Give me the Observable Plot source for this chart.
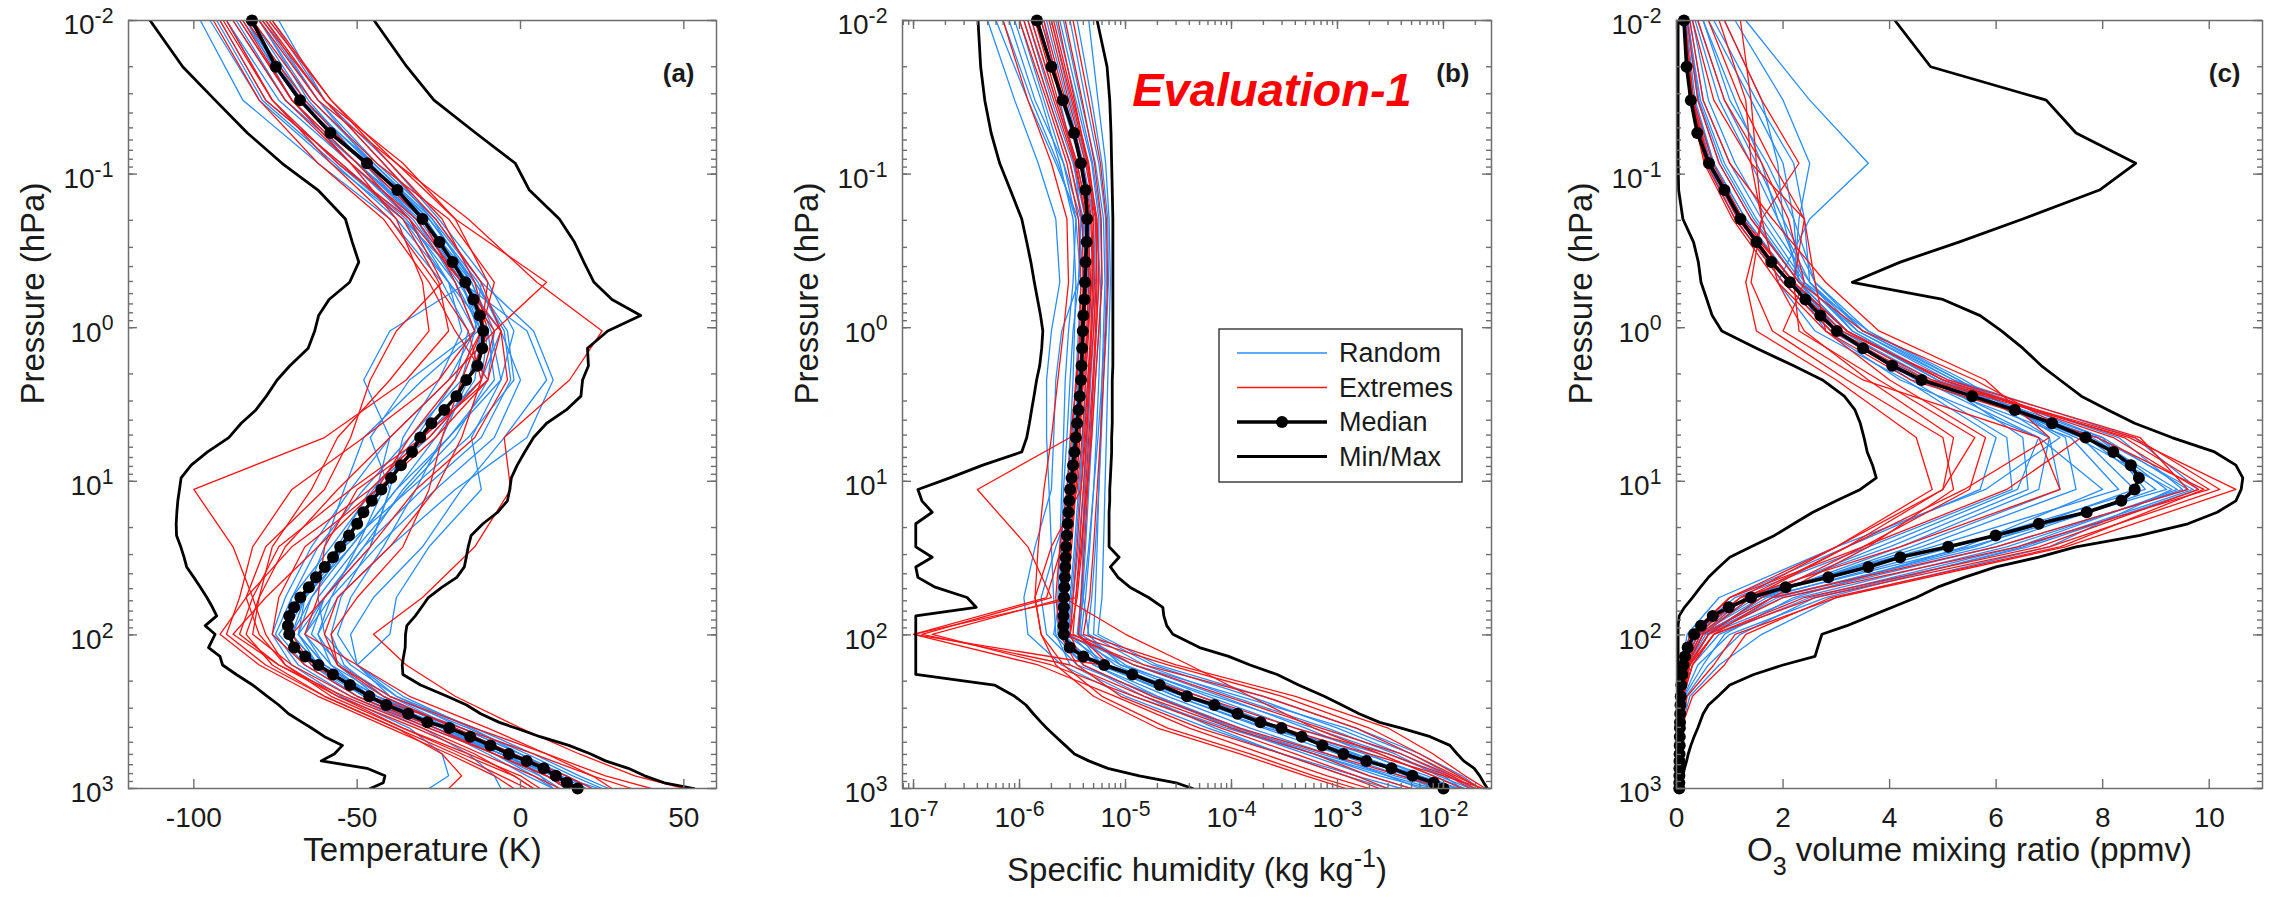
<!DOCTYPE html>
<html>
<head>
<meta charset="utf-8">
<script src="https://cdn.jsdelivr.net/npm/d3@7"></script>
<script src="https://cdn.jsdelivr.net/npm/@observablehq/plot@0.6"></script>
<style>
  html, body { margin: 0; padding: 0; background: #fff; }
  #page { position: relative; width: 2270px; height: 899px; overflow: hidden; background: #fff;
          font-family: "Liberation Sans", Arial, Helvetica, sans-serif; }
  .panel { position: absolute; top: 0; }
  #overlay { position: absolute; left: 0; top: 0; pointer-events: none; }
</style>
</head>
<body>
<div id="page"></div>
<script>
// Pressure levels (hPa) of the median and min/max profiles
const levels = [0.01, 0.02, 0.033, 0.054, 0.085, 0.127, 0.196, 0.277, 0.374, 0.506, 0.655, 0.834,
  1.05, 1.36, 1.77, 2.19, 2.79, 3.43, 4.19, 5.19, 6.44, 7.85, 9.5, 11.3, 13.4, 15.9, 18.9, 22.5,
  26.7, 31.2, 36.1, 42.2, 48.9, 57.1, 66.1, 75.2, 87.1, 99.1, 121, 138, 157, 181, 212, 251, 286,
  326, 371, 404, 460, 524, 596, 661, 739, 827, 918, 1000];

// Pressure levels (hPa) of the individual sample profiles
const levelsCoarse = [0.01, 0.033, 0.085, 0.196, 0.506, 1.05, 2.19, 5.19, 11.3, 26.7, 57.1, 99.1,
  157, 251, 404, 596, 827, 1000];

// ---------- (a) temperature ----------
const tempMedian = [-82.2, -74.9, -67.5, -58.2, -47.0, -37.7, -30.0, -24.8, -20.8, -16.9, -14.4, -12.5,
  -11.4, -11.7, -13.2, -16.6, -19.6, -23.3, -27.3, -30.7, -33.2, -36.6, -39.6, -42.6, -45.5, -48.1,
  -50.0, -52.5, -55.2, -57.4, -59.9, -62.6, -64.8, -67.4, -69.3, -70.8, -71.2, -70.8, -69.3, -65.9,
  -61.9, -57.4, -52.2, -46.3, -41.1, -34.4, -28.5, -21.8, -15.4, -9.2, -3.6, 1.9, 7.1, 10.8, 14.2, 17.5];
const tempMin = [-113.4, -103.4, -93.5, -83.6, -73, -62, -53.6, -51.5, -49.5, -52.3, -58.6, -61.8,
  -63, -65, -70.6, -74.5, -77.8, -81, -85.5, -89.3, -95.8, -100.8, -103.9, -104.4, -104.9, -105.2,
  -105.4, -105.3, -104, -103, -102.2, -100, -98, -96, -94.3, -93, -96.5, -93.5, -95.5, -92,
  -91.2, -87, -82, -77.5, -74, -71, -66.8, -64, -60, -54.5, -57, -61, -47, -41.5, -42, -46];
const tempMax = [-44.8, -34.8, -26.5, -13.7, -1.6, 2.7, 11.9, 16.5, 19.4, 22.5, 28, 36.8,
  26.7, 20.5, 20.8, 19, 18.5, 14, 8, 4, 1.3, -1, -2.8, -3.3, -4, -7, -11.5, -15.1, -16, -16.6,
  -17.2, -19.5, -24, -28.2, -30.3, -32.2, -34.8, -35.2, -35.3, -35.8, -36.2, -36, -30.6, -22.5,
  -16.5, -12.2, -6.5, -1.5, 6, 14.8, 21.5, 26, 33, 38, 44, 53.1];
const tempRandom = [
  [-98, -85, -62, -40, -24, -16, -20, -32, -45, -58, -70, -75, -68, -52, -30, -16, -8, -6],
  [-88, -72, -50, -32, -20, -12, -14, -26, -38, -52, -64, -68, -60, -44, -20, -2, 12, 20],
  [-80, -64, -45, -28, -14, -5, -3, -12, -30, -48, -60, -64, -55, -40, -16, 2, 16, 25],
  [-76, -60, -42, -27, -15, -8, -10, -20, -35, -50, -62, -60, -52, -38, -14, 4, 18, 27],
  [-92, -78, -55, -35, -20, -14, -22, -40, -52, -64, -72, -76, -70, -55, -34, -24, -22, -28],
  [-84, -68, -48, -30, -18, 2, 8, -5, -18, -30, -45, -52, -50, -36, -15, 0, 12, 18],
  [-86, -70, -50, -31, -18, -13, -30, -48, -54, -60, -66, -70, -62, -46, -24, -6, 8, 14],
  [-79, -62, -44, -26, -12, 4, 10, 2, -20, -40, -56, -62, -58, -46, -26, -10, 2, 10],
  [-90, -74, -52, -33, -19, -10, -12, -28, -46, -56, -66, -74, -66, -50, -28, -8, 6, 12],
  [-82, -66, -46, -29, -16, -40, -48, -40, -44, -54, -64, -70, -62, -48, -26, -6, 10, 16],
  [-78, -62, -46, -30, -15, -9, -6, -15, -12, -28, -38, -40, -50, -40, -20, -4, 6, 10],
  [-84, -70, -52, -34, -22, -18, -25, -36, -40, -46, -55, -58, -54, -42, -22, -6, 8, 14],
  [-95, -80, -58, -36, -17, -6, 0, -8, -26, -44, -58, -66, -60, -44, -18, 0, 14, 22],
  [-74, -60, -40, -25, -10, -2, -6, -22, -38, -52, -66, -72, -64, -48, -22, -4, 10, 18],
  [-90, -76, -56, -36, -22, -10, -8, -22, -36, -48, -60, -66, -58, -42, -20, -2, 10, 16],
  [-85, -68, -47, -28, -13, -6, -12, -30, -42, -50, -58, -62, -56, -44, -24, -8, 4, 10],
  [-80, -65, -48, -32, -18, -12, -16, -24, -32, -42, -52, -56, -50, -38, -18, 0, 14, 20],
  [-93, -79, -57, -38, -22, -14, -18, -34, -48, -62, -70, -72, -64, -50, -26, -6, 8, 14],
  [-87, -72, -50, -30, -14, -4, -2, -16, -34, -54, -66, -68, -60, -46, -24, -4, 12, 24],
  [-83, -67, -45, -27, -12, -14, -34, -46, -40, -46, -60, -68, -62, -46, -22, -2, 14, 20]
];
const tempExtremes = [
  [-92, -78, -55, -36, -25, -22, -35, -60, -100, -88, -82, -78, -72, -58, -36, -16, 0, 6],
  [-80, -62, -38, -16, 5, 25, 15, -5, -3, -14, -30, -45, -35, -20, 0, 18, 35, 50],
  [-86, -70, -50, -34, -24, -38, -46, -52, -60, -78, -84, -80, -72, -56, -36, -18, -2, 4],
  [-84, -66, -48, -30, -20, -14, -25, -48, -70, -82, -86, -90, -78, -60, -38, -20, -6, 2],
  [-78, -60, -36, -20, 8, -8, -12, -28, -50, -60, -62, -66, -50, -34, -10, 8, 22, 28],
  [-90, -76, -58, -40, -26, -16, -12, -18, -26, -40, -56, -60, -56, -42, -20, -2, 14, 22],
  [-82, -64, -44, -22, -8, -12, -20, -34, -44, -62, -78, -88, -74, -54, -30, -12, 4, 12],
  [-88, -72, -52, -32, -18, -8, -22, -40, -56, -72, -80, -84, -76, -60, -38, -24, -18, -22],
  [-79, -60, -42, -26, -12, -6, -4, -14, -32, -46, -60, -70, -64, -46, -18, 4, 22, 34],
  [-94, -80, -62, -42, -28, -20, -10, -26, -44, -66, -74, -76, -66, -50, -26, -8, 8, 16],
  [-76, -58, -40, -24, -14, -10, -16, -30, -46, -70, -84, -92, -80, -62, -40, -22, -8, -2],
  [-85, -70, -52, -38, -30, -28, -40, -56, -64, -76, -80, -82, -70, -52, -28, -8, 8, 14],
  [-77, -58, -38, -20, -10, -12, -18, -24, -28, -36, -50, -58, -56, -40, -14, 8, 26, 40],
  [-91, -76, -56, -34, -18, -6, -10, -30, -52, -74, -82, -86, -74, -56, -32, -14, -2, 4]
];

// ---------- (b) specific humidity ----------
const humMedian = [1.46e-6, 2.0e-6, 2.56e-6, 3.27e-6, 3.79e-6, 4.2e-6, 4.35e-6, 4.3e-6, 4.2e-6, 4.15e-6,
  4.1e-6, 4.0e-6, 3.95e-6, 3.9e-6, 3.85e-6, 3.8e-6, 3.7e-6, 3.6e-6, 3.5e-6, 3.4e-6, 3.3e-6, 3.2e-6,
  3.1e-6, 3.0e-6, 2.95e-6, 2.9e-6, 2.85e-6, 2.8e-6, 2.75e-6, 2.72e-6, 2.7e-6, 2.68e-6, 2.65e-6, 2.63e-6,
  2.62e-6, 2.6e-6, 2.6e-6, 2.62e-6, 2.97e-6, 4.0e-6, 6.3e-6, 1.16e-5, 2.1e-5, 3.8e-5, 6.9e-5, 1.14e-4,
  1.88e-4, 2.96e-4, 4.6e-4, 7.2e-4, 1.14e-3, 1.87e-3, 3.24e-3, 5.1e-3, 8.1e-3, 1.0e-2];
const humMin = [4.06e-7, 4.3e-7, 4.7e-7, 5.4e-7, 6.5e-7, 8.2e-7, 1.05e-6, 1.17e-6, 1.28e-6, 1.38e-6,
  1.48e-6, 1.58e-6, 1.66e-6, 1.62e-6, 1.55e-6, 1.45e-6, 1.37e-6, 1.3e-6, 1.24e-6, 1.17e-6, 1.05e-6,
  4.5e-7, 2.2e-7, 1.1e-7, 1.2e-7, 1.5e-7, 1.05e-7, 1.05e-7, 1.05e-7, 1.5e-7, 1.05e-7, 1.1e-7, 1.6e-7,
  3.2e-7, 3.9e-7, 1.05e-7, 1.05e-7, 1.05e-7, 1.05e-7, 1.05e-7, 1.05e-7, 1.05e-7, 5.8e-7, 9.0e-7,
  1.15e-6, 1.35e-6, 1.6e-6, 1.8e-6, 2.2e-6, 2.7e-6, 3.3e-6, 4.5e-6, 6.8e-6, 1.35e-5, 3.0e-5, 4.3e-5];
const humMax = [5.4e-6, 6.7e-6, 7.1e-6, 7.3e-6, 7.4e-6, 7.5e-6, 7.6e-6, 7.6e-6, 7.6e-6, 7.6e-6,
  7.6e-6, 7.6e-6, 7.6e-6, 7.6e-6, 7.6e-6, 7.5e-6, 7.5e-6, 7.5e-6, 7.5e-6, 7.4e-6, 7.4e-6, 7.3e-6,
  7.2e-6, 7.1e-6, 7.1e-6, 7.0e-6, 7.0e-6, 7.0e-6, 7.0e-6, 8.7e-6, 7.2e-6, 8.5e-6, 1.1e-5, 1.65e-5,
  2.25e-5, 2.3e-5, 2.45e-5, 2.8e-5, 5.0e-5, 9.4e-5, 1.5e-4, 2.7e-4, 4.3e-4, 7.5e-4, 1.1e-3, 1.6e-3,
  2.5e-3, 4.0e-3, 7.5e-3, 1.15e-2, 1.35e-2, 1.55e-2, 1.95e-2, 2.2e-2, 2.4e-2, 2.6e-2];
const humRandom = [
  [9e-7, 1.6e-6, 2.4e-6, 3.2e-6, 3.4e-6, 3.3e-6, 3.2e-6, 3.0e-6, 2.8e-6, 2.6e-6, 2.5e-6, 2.4e-6, 5e-6, 2.5e-5, 1.5e-4, 8e-4, 3e-3, 6e-3],
  [1.3e-6, 2.2e-6, 3.5e-6, 4.5e-6, 4.6e-6, 4.4e-6, 4.2e-6, 4.0e-6, 3.6e-6, 3.3e-6, 3.0e-6, 2.8e-6, 1.2e-5, 8e-5, 5e-4, 2e-3, 6e-3, 1.1e-2],
  [2.2e-6, 3.4e-6, 4.8e-6, 5.6e-6, 5.6e-6, 5.3e-6, 5.0e-6, 4.6e-6, 4.3e-6, 4.0e-6, 3.8e-6, 3.5e-6, 8e-6, 4e-5, 2.5e-4, 1.2e-3, 5e-3, 1.4e-2],
  [6e-7, 1.2e-6, 2.2e-6, 3.6e-6, 4.0e-6, 3.9e-6, 3.6e-6, 3.3e-6, 3.0e-6, 2.7e-6, 2.4e-6, 2.1e-6, 4e-6, 1.5e-5, 7e-5, 3e-4, 1.2e-3, 3e-3],
  [1.8e-6, 2.8e-6, 4.0e-6, 5.0e-6, 5.2e-6, 5.0e-6, 4.7e-6, 4.4e-6, 4.1e-6, 3.9e-6, 4.0e-6, 4.5e-6, 1.5e-5, 1e-4, 8e-4, 3.5e-3, 9e-3, 1.8e-2],
  [1.1e-6, 1.9e-6, 3.0e-6, 4.0e-6, 4.2e-6, 4.1e-6, 3.9e-6, 3.7e-6, 3.4e-6, 2.2e-6, 1.6e-6, 1.8e-6, 3.5e-6, 2e-5, 1.2e-4, 6e-4, 2.5e-3, 7e-3],
  [2.6e-6, 3.8e-6, 5.2e-6, 6.2e-6, 6.4e-6, 6.2e-6, 6.0e-6, 5.8e-6, 5.6e-6, 5.4e-6, 5.2e-6, 5.0e-6, 1.8e-5, 1.5e-4, 1e-3, 4e-3, 1.1e-2, 2e-2],
  [1.5e-6, 2.5e-6, 3.8e-6, 4.6e-6, 4.4e-6, 4.0e-6, 3.6e-6, 3.4e-6, 3.2e-6, 3.0e-6, 2.8e-6, 2.7e-6, 7e-6, 5e-5, 3e-4, 1.5e-3, 5e-3, 9e-3],
  [8e-7, 1.4e-6, 2.6e-6, 3.8e-6, 4.6e-6, 4.8e-6, 4.6e-6, 4.3e-6, 4.0e-6, 3.6e-6, 3.2e-6, 3.0e-6, 6e-6, 3e-5, 2e-4, 1e-3, 4e-3, 1.2e-2],
  [2.0e-6, 3.0e-6, 4.3e-6, 5.3e-6, 5.8e-6, 5.8e-6, 5.6e-6, 5.3e-6, 5.0e-6, 4.6e-6, 4.2e-6, 3.8e-6, 1e-5, 6e-5, 4e-4, 2.5e-3, 8e-3, 1.6e-2],
  [1.2e-6, 2.0e-6, 3.2e-6, 4.2e-6, 3.6e-6, 2.5e-6, 2.2e-6, 2.1e-6, 2.0e-6, 1.4e-6, 1.1e-6, 1.2e-6, 2.5e-6, 1e-5, 6e-5, 3e-4, 1.5e-3, 4e-3],
  [1.6e-6, 2.6e-6, 3.9e-6, 5.0e-6, 5.0e-6, 4.8e-6, 4.4e-6, 4.0e-6, 3.7e-6, 3.4e-6, 3.1e-6, 2.9e-6, 9e-6, 7e-5, 6e-4, 3e-3, 1e-2, 1.5e-2],
  [7e-7, 1.3e-6, 2.3e-6, 3.4e-6, 3.8e-6, 3.6e-6, 3.4e-6, 3.2e-6, 2.9e-6, 2.7e-6, 2.6e-6, 2.6e-6, 5e-6, 2e-5, 1e-4, 5e-4, 2e-3, 5e-3],
  [2.4e-6, 3.6e-6, 4.9e-6, 5.8e-6, 6.0e-6, 5.6e-6, 5.2e-6, 4.8e-6, 4.5e-6, 4.2e-6, 3.9e-6, 3.7e-6, 1.2e-5, 1.2e-4, 1.2e-3, 5e-3, 1.2e-2, 1.9e-2],
  [4.5e-6, 5.5e-6, 6.5e-6, 7.0e-6, 7.2e-6, 7.0e-6, 6.8e-6, 6.6e-6, 6.4e-6, 6.2e-6, 6.0e-6, 5.5e-6, 2e-5, 2e-4, 1.5e-3, 6e-3, 1.5e-2, 2.2e-2],
  [5e-7, 9e-7, 1.5e-6, 2.2e-6, 2.4e-6, 2.0e-6, 1.8e-6, 1.8e-6, 1.9e-6, 2.0e-6, 2.1e-6, 2.2e-6, 3e-6, 1.2e-5, 9e-5, 6e-4, 3e-3, 8e-3],
  [3.5e-6, 4.8e-6, 6.0e-6, 6.8e-6, 6.9e-6, 6.6e-6, 6.2e-6, 5.9e-6, 5.6e-6, 5.2e-6, 4.8e-6, 4.4e-6, 9e-6, 5e-5, 3e-4, 1.8e-3, 7e-3, 1.3e-2],
  [1.0e-6, 1.7e-6, 2.6e-6, 3.4e-6, 3.2e-6, 2.9e-6, 2.7e-6, 2.6e-6, 2.5e-6, 2.4e-6, 2.3e-6, 2.3e-6, 4e-6, 1.8e-5, 1.1e-4, 7e-4, 3.5e-3, 1e-2],
  [3.0e-6, 4.2e-6, 5.6e-6, 6.5e-6, 6.6e-6, 6.4e-6, 6.0e-6, 5.5e-6, 5.0e-6, 4.5e-6, 4.0e-6, 3.6e-6, 6e-6, 3e-5, 2.2e-4, 1.4e-3, 6e-3, 1.4e-2],
  [1.7e-6, 2.4e-6, 3.3e-6, 3.8e-6, 3.6e-6, 3.2e-6, 3.0e-6, 2.8e-6, 2.6e-6, 2.5e-6, 2.4e-6, 2.4e-6, 5.5e-6, 3.5e-5, 2.5e-4, 1.3e-3, 4.5e-3, 8e-3]
];
const humExtremes = [
  [1.0e-6, 1.8e-6, 2.8e-6, 3.6e-6, 3.8e-6, 3.7e-6, 3.5e-6, 3.0e-6, 4e-7, 1.2e-6, 2.0e-6, 1.2e-7, 3e-6, 1.5e-5, 1e-4, 6e-4, 2e-3, 5e-3],
  [1.9e-6, 2.9e-6, 4.2e-6, 5.2e-6, 5.4e-6, 5.2e-6, 4.9e-6, 4.5e-6, 4.2e-6, 3.9e-6, 3.5e-6, 3.0e-6, 2.5e-5, 3e-4, 2e-3, 6e-3, 1.4e-2, 2.2e-2],
  [1.4e-6, 2.3e-6, 3.5e-6, 4.4e-6, 4.7e-6, 4.5e-6, 4.2e-6, 3.9e-6, 3.5e-6, 2.5e-6, 1.8e-6, 1.0e-7, 1.5e-6, 8e-6, 4e-5, 2e-4, 8e-4, 2e-3],
  [2.3e-6, 3.3e-6, 4.4e-6, 5.0e-6, 4.8e-6, 4.4e-6, 4.0e-6, 3.6e-6, 3.2e-6, 2.8e-6, 2.6e-6, 1.0e-5, 4e-5, 1.5e-4, 6e-4, 2.5e-3, 8e-3, 1.5e-2],
  [1.2e-6, 2.1e-6, 3.3e-6, 4.3e-6, 4.5e-6, 4.3e-6, 4.0e-6, 3.7e-6, 3.4e-6, 3.1e-6, 2.8e-6, 1.5e-7, 2e-6, 1.2e-5, 8e-5, 4e-4, 1.5e-3, 3e-3],
  [2.0e-6, 3.1e-6, 4.4e-6, 5.4e-6, 5.6e-6, 5.3e-6, 5.0e-6, 4.7e-6, 4.4e-6, 4.1e-6, 3.8e-6, 3.6e-6, 7e-6, 4e-5, 3e-4, 2e-3, 1e-2, 2.4e-2],
  [1.6e-6, 2.6e-6, 3.8e-6, 4.7e-6, 4.9e-6, 4.7e-6, 4.4e-6, 4.1e-6, 3.8e-6, 3.5e-6, 3.2e-6, 3.0e-6, 4e-6, 1.8e-5, 1.2e-4, 8e-4, 4e-3, 1e-2],
  [1.1e-6, 1.9e-6, 3.0e-6, 3.9e-6, 4.0e-6, 3.8e-6, 3.4e-6, 3.1e-6, 2.8e-6, 2.4e-6, 2.2e-6, 2.4e-6, 3.5e-6, 9e-6, 5e-5, 3e-4, 1.2e-3, 2.5e-3],
  [2.1e-6, 3.2e-6, 4.5e-6, 5.3e-6, 5.3e-6, 5.0e-6, 4.6e-6, 4.3e-6, 4.0e-6, 3.7e-6, 3.4e-6, 1.0e-7, 6e-6, 5e-5, 4e-4, 3e-3, 1.1e-2, 1.8e-2],
  [1.7e-6, 2.7e-6, 3.9e-6, 4.8e-6, 5.1e-6, 4.8e-6, 4.5e-6, 4.2e-6, 3.8e-6, 2.0e-6, 1.4e-6, 1.6e-6, 2.6e-6, 6e-6, 2.5e-5, 1.5e-4, 6e-4, 1.5e-3],
  [1.3e-6, 2.2e-6, 3.4e-6, 4.2e-6, 4.3e-6, 4.1e-6, 3.8e-6, 3.5e-6, 3.3e-6, 3.0e-6, 2.8e-6, 2.6e-6, 1.5e-5, 2e-4, 1.5e-3, 5e-3, 1.3e-2, 2.3e-2],
  [3.2e-6, 4.5e-6, 5.8e-6, 6.6e-6, 6.8e-6, 6.5e-6, 6.2e-6, 5.8e-6, 5.4e-6, 5.0e-6, 4.6e-6, 4.0e-6, 3e-5, 4e-4, 3e-3, 8e-3, 1.6e-2, 2.5e-2],
  [7e-7, 1.2e-6, 2.0e-6, 2.8e-6, 2.9e-6, 2.6e-6, 2.3e-6, 2.0e-6, 1.7e-6, 1.5e-6, 1.4e-6, 1.6e-6, 2.2e-6, 5e-6, 2e-5, 1.2e-4, 5e-4, 1.2e-3],
  [2.7e-6, 3.9e-6, 5.1e-6, 5.9e-6, 6.0e-6, 5.6e-6, 5.2e-6, 4.8e-6, 4.3e-6, 3.8e-6, 3.4e-6, 3.2e-6, 1.2e-5, 9e-5, 7e-4, 4e-3, 1.2e-2, 2e-2]
];

// ---------- (c) ozone ----------
const ozoneMedian = [0.14, 0.19, 0.27, 0.39, 0.61, 0.90, 1.20, 1.50, 1.78, 2.13, 2.42, 2.70, 3.01,
  3.50, 4.05, 4.6, 5.55, 6.35, 7.05, 7.68, 8.2, 8.53, 8.68, 8.6, 8.35, 7.7, 6.8, 5.99, 5.1, 4.2, 3.6,
  2.85, 2.05, 1.4, 0.98, 0.68, 0.46, 0.33, 0.21, 0.16, 0.13, 0.11, 0.09, 0.08, 0.075, 0.07, 0.066,
  0.064, 0.062, 0.06, 0.058, 0.056, 0.055, 0.054, 0.053, 0.052];
const ozoneMin = [0.03, 0.03, 0.03, 0.03, 0.03, 0.04, 0.12, 0.32, 0.41, 0.46, 0.57, 0.67, 0.85, 1.5,
  2.2, 2.74, 3.15, 3.35, 3.45, 3.52, 3.58, 3.68, 3.75, 3.45, 3.0, 2.56, 2.2, 1.84, 1.4, 1.0, 0.8, 0.6,
  0.45, 0.3, 0.15, 0.05, 0.03, 0.03, 0.03, 0.03, 0.03, 0.03, 0.03, 0.03, 0.03, 0.03, 0.03, 0.03,
  0.03, 0.03, 0.03, 0.03, 0.03, 0.03, 0.03, 0.03];
const ozoneMax = [4.1, 4.77, 6.94, 7.5, 8.62, 7.94, 6.5, 5.3, 4.2, 3.3, 5.0, 5.7, 6.1, 6.5, 6.85, 7.2,
  7.6, 8.1, 8.6, 9.3, 10.1, 10.5, 10.63, 10.6, 10.5, 10.15, 9.6, 8.7, 7.5, 6.8, 6.0, 5.4, 4.9, 4.5,
  4.05, 3.65, 3.2, 2.73, 2.65, 2.6, 2.0, 1.45, 1.0, 0.78, 0.6, 0.5, 0.44, 0.4, 0.33, 0.27, 0.22, 0.19,
  0.15, 0.12, 0.09, 0.07];
const ozoneRandom = [
  [0.2, 0.4, 0.8, 1.4, 2.3, 3.2, 4.9, 8.0, 9.6, 6.0, 2.0, 0.5, 0.2, 0.1, 0.07, 0.06, 0.05, 0.05],
  [0.15, 0.3, 0.65, 1.25, 2.2, 3.1, 4.8, 7.9, 9.2, 5.5, 1.6, 0.4, 0.15, 0.09, 0.07, 0.06, 0.05, 0.05],
  [0.5, 1.1, 1.6, 1.9, 2.4, 3.3, 4.9, 6.5, 6.6, 4.0, 1.3, 0.35, 0.15, 0.09, 0.07, 0.06, 0.06, 0.05],
  [1.3, 2.5, 3.6, 2.5, 1.9, 2.6, 4.3, 6.0, 5.7, 3.2, 1.0, 0.3, 0.12, 0.08, 0.07, 0.06, 0.05, 0.05],
  [0.12, 0.25, 0.55, 1.1, 2.0, 2.9, 4.5, 7.4, 8.3, 4.8, 1.3, 0.3, 0.12, 0.08, 0.07, 0.06, 0.05, 0.05],
  [0.35, 0.8, 1.4, 1.9, 2.5, 3.4, 5.2, 8.6, 9.8, 6.6, 2.6, 1.2, 0.6, 0.18, 0.09, 0.07, 0.06, 0.06],
  [0.6, 1.4, 2.0, 2.2, 2.3, 3.0, 4.4, 6.2, 6.3, 3.6, 1.1, 0.25, 0.1, 0.07, 0.06, 0.05, 0.05, 0.05],
  [0.18, 0.35, 0.7, 1.3, 2.2, 3.1, 4.7, 7.0, 7.2, 4.4, 1.6, 0.6, 0.25, 0.12, 0.08, 0.06, 0.05, 0.05],
  [0.9, 1.6, 1.9, 2.0, 2.3, 3.2, 5.0, 7.5, 9.3, 7.0, 3.0, 1.6, 0.8, 0.25, 0.09, 0.07, 0.06, 0.06],
  [0.25, 0.5, 1.0, 1.6, 2.4, 3.6, 5.4, 7.2, 5.8, 3.0, 0.8, 0.2, 0.1, 0.07, 0.06, 0.05, 0.05, 0.05],
  [0.14, 0.28, 0.6, 1.15, 2.1, 3.0, 4.6, 7.7, 9.0, 5.8, 1.8, 0.45, 0.18, 0.1, 0.07, 0.06, 0.05, 0.05],
  [0.4, 0.9, 1.5, 2.0, 2.6, 3.6, 5.3, 7.3, 7.5, 4.6, 1.5, 0.4, 0.16, 0.09, 0.07, 0.06, 0.05, 0.05],
  [1.1, 2.0, 2.5, 2.3, 2.2, 2.8, 4.2, 6.8, 8.0, 5.4, 2.2, 0.9, 0.5, 0.15, 0.08, 0.07, 0.06, 0.05],
  [0.2, 0.45, 0.9, 1.5, 2.35, 3.4, 5.1, 8.3, 9.5, 6.2, 2.3, 0.6, 0.22, 0.11, 0.08, 0.06, 0.06, 0.05],
  [0.3, 0.6, 1.1, 1.7, 2.5, 3.5, 5.2, 8.0, 8.8, 5.2, 1.7, 0.5, 0.2, 0.1, 0.07, 0.06, 0.05, 0.05],
  [0.16, 0.32, 0.7, 1.3, 2.2, 3.0, 4.6, 6.8, 6.4, 3.8, 1.4, 0.45, 0.18, 0.09, 0.07, 0.06, 0.05, 0.05],
  [0.7, 1.5, 2.2, 2.4, 2.5, 3.3, 5.0, 7.8, 9.4, 6.4, 2.5, 0.8, 0.3, 0.12, 0.08, 0.06, 0.05, 0.05],
  [0.22, 0.42, 0.85, 1.45, 2.3, 3.2, 4.9, 7.6, 8.6, 5.6, 1.9, 0.55, 0.2, 0.1, 0.07, 0.06, 0.05, 0.05],
  [0.5, 1.0, 1.7, 2.2, 2.6, 3.5, 5.3, 7.0, 6.8, 4.2, 1.6, 0.6, 0.25, 0.11, 0.07, 0.06, 0.05, 0.05],
  [0.13, 0.26, 0.58, 1.1, 2.0, 2.9, 4.6, 7.9, 9.7, 6.5, 2.8, 1.0, 0.4, 0.14, 0.08, 0.07, 0.06, 0.05]
];
const ozoneExtremes = [
  [1.2, 1.4, 1.5, 1.6, 1.3, 1.5, 3.0, 4.5, 4.8, 3.0, 1.2, 0.4, 0.15, 0.09, 0.07, 0.06, 0.05, 0.05],
  [0.15, 0.3, 0.62, 1.2, 2.1, 3.0, 4.8, 8.6, 10.2, 7.0, 2.6, 0.7, 0.25, 0.12, 0.08, 0.06, 0.05, 0.05],
  [0.6, 1.2, 1.8, 2.4, 2.2, 2.3, 3.8, 5.6, 5.0, 3.2, 1.4, 0.5, 0.2, 0.1, 0.07, 0.06, 0.05, 0.05],
  [0.13, 0.26, 0.55, 1.1, 2.0, 2.9, 4.7, 8.5, 10.5, 7.3, 3.0, 1.1, 0.7, 0.2, 0.09, 0.07, 0.06, 0.05],
  [0.3, 0.7, 1.4, 2.4, 2.6, 2.8, 4.0, 5.8, 5.5, 3.5, 1.6, 0.6, 0.25, 0.12, 0.08, 0.06, 0.05, 0.05],
  [0.16, 0.32, 0.68, 1.25, 2.2, 3.2, 5.0, 8.2, 9.8, 6.8, 2.4, 0.7, 0.3, 0.13, 0.08, 0.06, 0.05, 0.05],
  [0.8, 1.3, 1.4, 1.6, 1.9, 2.4, 3.6, 5.2, 5.0, 3.0, 1.0, 0.3, 0.12, 0.08, 0.07, 0.06, 0.05, 0.05],
  [0.14, 0.27, 0.6, 1.15, 2.1, 3.1, 5.1, 8.7, 9.6, 6.0, 1.8, 0.5, 0.2, 0.1, 0.07, 0.06, 0.05, 0.05],
  [0.4, 0.9, 1.6, 2.1, 2.4, 2.0, 3.5, 6.8, 7.2, 4.2, 1.2, 0.3, 0.12, 0.08, 0.06, 0.05, 0.05, 0.05],
  [0.2, 0.4, 0.8, 1.4, 2.3, 3.5, 5.6, 7.6, 6.2, 3.5, 1.0, 0.25, 0.1, 0.07, 0.06, 0.05, 0.05, 0.05],
  [0.13, 0.25, 0.52, 1.05, 1.9, 2.8, 4.4, 7.9, 9.9, 7.2, 2.9, 1.3, 0.9, 0.3, 0.09, 0.07, 0.06, 0.06],
  [0.9, 1.6, 2.3, 1.6, 1.4, 1.8, 3.2, 5.0, 5.2, 3.6, 1.8, 0.7, 0.3, 0.12, 0.08, 0.06, 0.05, 0.05],
  [0.14, 0.28, 0.62, 1.2, 2.2, 3.2, 5.0, 8.4, 10.0, 6.4, 2.0, 0.6, 0.22, 0.11, 0.07, 0.06, 0.05, 0.05],
  [0.25, 0.5, 1.0, 1.8, 2.8, 3.8, 5.8, 7.0, 5.4, 3.2, 1.3, 0.45, 0.18, 0.09, 0.07, 0.06, 0.05, 0.05]
];

// Axis ticks and their labels
const pressureTicks = [0.01, 0.1, 1, 10, 100, 1000];
const pressureTickLabels = ["10^-2", "10^-1", "10^0", "10^1", "10^2", "10^3"];
const tempTicks = [-100, -50, 0, 50];
const tempTickLabels = ["-100", "-50", "0", "50"];
const humTicks = [1e-7, 1e-6, 1e-5, 1e-4, 1e-3, 1e-2];
const humTickLabels = ["10^-7", "10^-6", "10^-5", "10^-4", "10^-3", "10^-2"];
const ozoneTicks = [0, 2, 4, 6, 8, 10];
const ozoneTickLabels = ["0", "2", "4", "6", "8", "10"];

const seriesNames = ["Random", "Extremes", "Median", "Min/Max"];

// ---------- drawing ----------
const BLUE = "#2a8cff", RED = "#ff1414", AXIS = "#6e6e6e";
const H = 899, MT = 20, MB = 111;
const FONT = "'Liberation Sans', Arial, Helvetica, sans-serif";

const onLevels = (values) => values.map((v, i) => ({p: levels[i], v}));
const onCoarse = (profiles) => profiles.flatMap((vals, k) => vals.map((v, i) => ({id: k, p: levelsCoarse[i], v})));
const labeller = (ticks, labels) => { const m = new Map(ticks.map((t, i) => [t, labels[i]])); return (d) => m.get(d); };

function panel(o) {
  const innerW = o.width - o.marginLeft - o.marginRight;
  const innerH = H - MT - MB;
  const yMinor = d3.scaleLog().domain([0.01, 1000]).ticks();
  const xMinor = o.x.type === "log" ? d3.scaleLog().domain(o.x.domain).ticks() : [];
  const tick = {stroke: AXIS, strokeWidth: 1.4};
  return Plot.plot({
    width: o.width, height: H,
    marginTop: MT, marginBottom: MB, marginLeft: o.marginLeft, marginRight: o.marginRight,
    style: {fontFamily: FONT, fontSize: "28px", color: "#1a1a1a", background: "white", overflow: "visible", maxWidth: "none"},
    x: o.x,
    y: {type: "log", domain: [0.01, 1000], reverse: true},
    marks: [
      Plot.line(onCoarse(o.random), {x: "v", y: "p", z: "id", stroke: BLUE, strokeWidth: 1.3, clip: true}),
      Plot.line(onCoarse(o.extremes), {x: "v", y: "p", z: "id", stroke: RED, strokeWidth: 1.3, clip: true}),
      Plot.line(onLevels(o.min), {x: "v", y: "p", stroke: "black", strokeWidth: 2.8, clip: true}),
      Plot.line(onLevels(o.max), {x: "v", y: "p", stroke: "black", strokeWidth: 2.8, clip: true}),
      Plot.line(onLevels(o.median), {x: "v", y: "p", stroke: "black", strokeWidth: 3.6}),
      Plot.dot(onLevels(o.median), {x: "v", y: "p", r: 6, fill: "black"}),
      Plot.frame({stroke: AXIS, strokeWidth: 1.5}),
      // inward tick marks on all four sides
      Plot.ruleX(o.ticks, {...tick, insetTop: innerH - 9}),
      Plot.ruleX(o.ticks, {...tick, insetBottom: innerH - 9}),
      Plot.ruleX(xMinor, {...tick, insetTop: innerH - 5}),
      Plot.ruleX(xMinor, {...tick, insetBottom: innerH - 5}),
      Plot.ruleY(pressureTicks, {...tick, insetRight: innerW - 9}),
      Plot.ruleY(pressureTicks, {...tick, insetLeft: innerW - 9}),
      Plot.ruleY(yMinor, {...tick, insetRight: innerW - 5}),
      Plot.ruleY(yMinor, {...tick, insetLeft: innerW - 5}),
      Plot.axisX(o.ticks, {anchor: "bottom", tickSize: 0, tickPadding: 19, tickFormat: labeller(o.ticks, o.tickLabels), label: null}),
      Plot.axisY(pressureTicks, {anchor: "left", tickSize: 0, tickPadding: 15, dy: 5, tickFormat: labeller(pressureTicks, pressureTickLabels), label: null}),
      Plot.text([o.title], {text: (d) => d, frameAnchor: "bottom", dy: o.titleDy, fontSize: 33}),
      Plot.text(["Pressure (hPa)"], {text: (d) => d, frameAnchor: "left", dx: -95, rotate: -90, fontSize: 33}),
      Plot.text([o.tag], {text: (d) => d, frameAnchor: "top-right", dx: -22, dy: 43, textAnchor: "end", fontWeight: "bold", fontSize: 26})
    ]
  });
}

// turn "a^b", "a^{b}" and "a_{b}" into raised / lowered tspans
function richText(root) {
  d3.select(root).selectAll("text").each(function () {
    const s = this.textContent;
    if (!/[\^_]/.test(s)) return;
    const size = parseFloat(getComputedStyle(this).fontSize) || 28;
    const parts = s.split(/([\^_]\{[^}]*\}|\^[^\s{]+)/).filter((p) => p !== "");
    const el = d3.select(this).text(null);
    let shift = 0;
    for (const part of parts) {
      const script = part[0] === "^" || part[0] === "_";
      const content = script ? part.replace(/^[\^_]\{?/, "").replace(/\}$/, "") : part;
      const target = script ? (part[0] === "^" ? -0.4 * size : 0.45 * size) : 0;
      const ts = el.append("tspan").attr("dy", target - shift).text(content);
      if (script) ts.attr("font-size", 0.76 * size);
      shift = target;
    }
  });
}

const page = document.getElementById("page");
const panels = [
  {left: 0, width: 760, marginLeft: 128, marginRight: 44,
   x: {type: "linear", domain: [-120, 60]}, ticks: tempTicks, tickLabels: tempTickLabels,
   title: "Temperature (K)", titleDy: 72, tag: "(a)",
   random: tempRandom, extremes: tempExtremes, median: tempMedian, min: tempMin, max: tempMax},
  {left: 760, width: 760, marginLeft: 142, marginRight: 29,
   x: {type: "log", domain: [7.87e-8, 2.84e-2]}, ticks: humTicks, tickLabels: humTickLabels,
   title: "Specific humidity (kg kg^{-1})", titleDy: 92, tag: "(b)",
   random: humRandom, extremes: humExtremes, median: humMedian, min: humMin, max: humMax},
  {left: 1520, width: 750, marginLeft: 156, marginRight: 8,
   x: {type: "linear", domain: [0, 11]}, ticks: ozoneTicks, tickLabels: ozoneTickLabels,
   title: "O_{3} volume mixing ratio (ppmv)", titleDy: 72, tag: "(c)",
   random: ozoneRandom, extremes: ozoneExtremes, median: ozoneMedian, min: ozoneMin, max: ozoneMax}
];
for (const o of panels) {
  const div = document.createElement("div");
  div.className = "panel";
  div.style.left = o.left + "px";
  div.style.width = o.width + "px";
  const svg = panel(o);
  div.appendChild(svg);
  page.appendChild(div);
  richText(svg);
}

// legend and run label drawn over panel (b)
const overlay = d3.select(page).append("svg").attr("id", "overlay")
  .attr("width", 2270).attr("height", 899)
  .style("font-family", FONT);

overlay.append("text")
  .attr("x", 1272).attr("y", 106).attr("text-anchor", "middle")
  .attr("font-size", 47).attr("font-weight", "bold").attr("font-style", "italic")
  .attr("fill", "#ff0000").text("Evaluation-1");

const lg = overlay.append("g").attr("transform", "translate(1219,329)");
lg.append("rect").attr("width", 243).attr("height", 153)
  .attr("fill", "white").attr("stroke", "#333").attr("stroke-width", 1.4);
const legendStyle = [
  {stroke: BLUE, width: 1.3, dot: false},
  {stroke: RED, width: 1.3, dot: false},
  {stroke: "black", width: 3.6, dot: true},
  {stroke: "black", width: 2.8, dot: false}
];
seriesNames.forEach((name, i) => {
  const s = legendStyle[i];
  const row = lg.append("g").attr("transform", `translate(0,${24 + i * 34.5})`);
  row.append("line").attr("x1", 18).attr("x2", 108).attr("stroke", s.stroke).attr("stroke-width", s.width);
  if (s.dot) row.append("circle").attr("cx", 63).attr("r", 6).attr("fill", "black");
  row.append("text").attr("x", 120).attr("dy", "0.35em").attr("font-size", 27).attr("fill", "#1a1a1a").text(name);
});
</script>
</body>
</html>
